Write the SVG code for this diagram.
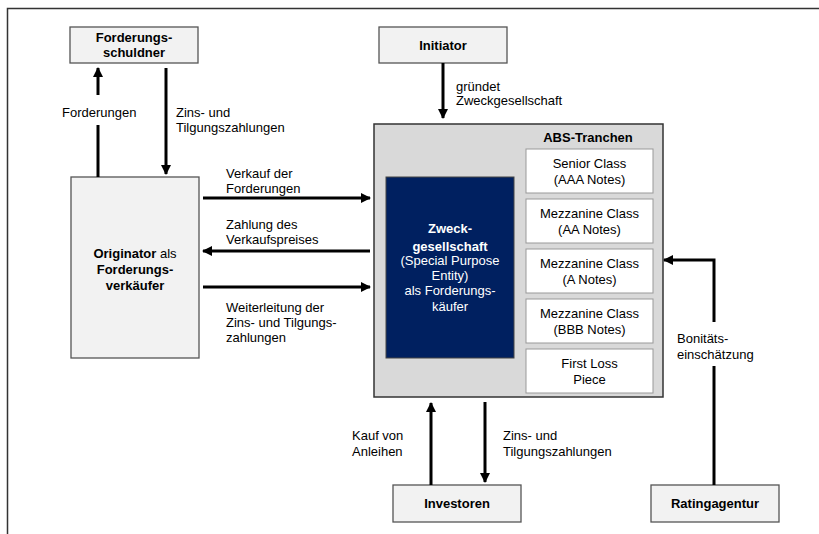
<svg xmlns="http://www.w3.org/2000/svg" width="819" height="534" viewBox="0 0 819 534">
<style>
text{font-family:"Liberation Sans",Arial,sans-serif;font-size:13px;fill:#000}
.b{font-weight:bold}
.c{text-anchor:middle}
.w{fill:#fff}
.node{fill:#f2f2f2;stroke:#555;stroke-width:1.3}
.tr{fill:#fff;stroke:#999;stroke-width:1}
.con{stroke:#000;stroke-width:3;fill:none}
.arr{marker-end:url(#ah)}
</style>
<defs>
<marker id="ah" markerUnits="userSpaceOnUse" markerWidth="10" markerHeight="10" refX="9" refY="5" orient="auto">
<path d="M0,0 L10,5 L0,10 z" fill="#000"/>
</marker>
</defs>
<rect width="819" height="534" fill="#fff"/>
<path d="M7.5,534 V8.5 H819" fill="none" stroke="#333" stroke-width="1.5"/>

<g id="forderungsschuldner">
<rect class="node" x="70" y="27" width="128" height="36"/>
<text class="b c" x="134" y="42">Forderungs-</text>
<text class="b c" x="134" y="57">schuldner</text>
</g>

<g id="initiator">
<rect class="node" x="379" y="27" width="128" height="36"/>
<text class="b c" x="443" y="50">Initiator</text>
</g>

<g id="originator">
<rect class="node" x="71" y="177" width="128" height="181"/>
<text class="c" x="135" y="258"><tspan class="b">Originator</tspan> als</text>
<text class="b c" x="135" y="274">Forderungs-</text>
<text class="b c" x="135" y="290">verkäufer</text>
</g>

<g id="abs-box">
<rect x="374" y="124" width="289" height="273" fill="#d9d9d9" stroke="#333" stroke-width="1.5"/>
<text class="b c" x="588" y="142">ABS-Tranchen</text>
</g>

<g id="zweckgesellschaft">
<rect x="386" y="177" width="128" height="181" fill="#002060" stroke="#444" stroke-width="1"/>
<text class="b c w" x="450" y="233">Zweck-</text>
<text class="b c w" x="450" y="251">gesellschaft</text>
<text class="c w" x="450" y="265">(Special Purpose</text>
<text class="c w" x="450" y="280">Entity)</text>
<text class="c w" x="450" y="295">als Forderungs-</text>
<text class="c w" x="450" y="311">käufer</text>
</g>

<g id="senior">
<rect class="tr" x="526" y="149" width="127" height="44"/>
<text class="c" x="589.5" y="168">Senior Class</text>
<text class="c" x="589.5" y="184">(AAA Notes)</text>
</g>
<g id="mezz-aa">
<rect class="tr" x="526" y="199" width="127" height="44"/>
<text class="c" x="589.5" y="218">Mezzanine Class</text>
<text class="c" x="589.5" y="234">(AA Notes)</text>
</g>
<g id="mezz-a">
<rect class="tr" x="526" y="249" width="127" height="44"/>
<text class="c" x="589.5" y="268">Mezzanine Class</text>
<text class="c" x="589.5" y="284">(A Notes)</text>
</g>
<g id="mezz-bbb">
<rect class="tr" x="526" y="299" width="127" height="44"/>
<text class="c" x="589.5" y="318">Mezzanine Class</text>
<text class="c" x="589.5" y="334">(BBB Notes)</text>
</g>
<g id="first-loss">
<rect class="tr" x="526" y="349" width="127" height="44"/>
<text class="c" x="589.5" y="368">First Loss</text>
<text class="c" x="589.5" y="384">Piece</text>
</g>

<g id="investoren">
<rect class="node" x="393" y="485" width="128" height="37"/>
<text class="b c" x="457" y="508">Investoren</text>
</g>

<g id="ratingagentur">
<rect class="node" x="651" y="485" width="128" height="37"/>
<text class="b c" x="715" y="508">Ratingagentur</text>
</g>

<g id="connectors">
<path class="con" d="M98,177 V125"/>
<path class="con arr" d="M98,95 V68"/>
<text x="62" y="117">Forderungen</text>

<path class="con arr" d="M166,68 V174"/>
<text x="176" y="117">Zins- und</text>
<text x="176" y="132">Tilgungszahlungen</text>

<path class="con arr" d="M443,63 V118"/>
<text x="456" y="91">gründet</text>
<text x="456" y="105">Zweckgesellschaft</text>

<path class="con arr" d="M203,198 H370"/>
<text x="226" y="178">Verkauf der</text>
<text x="226" y="193">Forderungen</text>

<path class="con arr" d="M370,251 H203"/>
<text x="226" y="229">Zahlung des</text>
<text x="226" y="244">Verkaufspreises</text>

<path class="con arr" d="M203,287 H370"/>
<text x="226" y="312">Weiterleitung der</text>
<text x="226" y="327">Zins- und Tilgungs-</text>
<text x="226" y="342">zahlungen</text>

<path class="con arr" d="M431,485 V403"/>
<text x="352" y="440">Kauf von</text>
<text x="352" y="456">Anleihen</text>

<path class="con arr" d="M485,402 V482"/>
<text x="503" y="440">Zins- und</text>
<text x="503" y="456">Tilgungszahlungen</text>

<path class="con" d="M714,485 V366"/>
<path class="con arr" d="M714,322 V260 H664"/>
<text x="677" y="343">Bonitäts-</text>
<text x="677" y="359">einschätzung</text>
</g>
</svg>
